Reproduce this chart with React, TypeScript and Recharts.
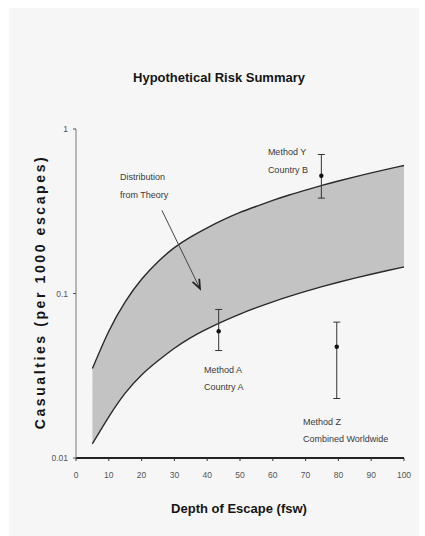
import React from 'react';
import {
  ComposedChart, XAxis, YAxis, Area, Line, Scatter, ErrorBar, ReferenceDot, ReferenceLine,
} from 'recharts';

// Theoretical band (depth in fsw, casualties per 1000 escapes)
const depths = [5, 10, 15, 20, 25, 30, 35, 40, 45, 50, 55, 60, 65, 70, 75, 80, 85, 90, 95, 100];
const upperValues = [0.035, 0.059, 0.089, 0.122, 0.156, 0.19, 0.221, 0.251, 0.281, 0.311, 0.339, 0.368, 0.397, 0.425, 0.454, 0.483, 0.512, 0.541, 0.57, 0.6];
const lowerValues = [0.0122, 0.0178, 0.0248, 0.032, 0.039, 0.0465, 0.054, 0.061, 0.068, 0.075, 0.082, 0.089, 0.096, 0.103, 0.11, 0.117, 0.124, 0.131, 0.138, 0.145];

// Observed methods with error bars
const methodNames = ['Method A', 'Method Y', 'Method Z'];
const methodDepths = [43.5, 74.8, 79.5];
const methodValues = [0.059, 0.52, 0.0475];
const methodLows = [0.045, 0.38, 0.023];
const methodHighs = [0.08, 0.7, 0.067];

// Axis ticks
const xTicks = [0, 10, 20, 30, 40, 50, 60, 70, 80, 90, 100];
const yTicks = [0.01, 0.1, 1];
const yTickLabels = ['0.01', '0.1', '1'];

// Annotations (anchored in data coordinates)
const annotLines = [
  ['Method Y', 'Country B'],
  ['Distribution', 'from Theory'],
  ['Method A', 'Country A'],
  ['Method Z', 'Combined Worldwide'],
];
const annotDepths = [58.5, 13.4, 39, 69.2];
const annotValues = [0.693, 0.489, 0.033, 0.0159];
const arrowFrom = { d: 26.2, v: 0.32 };
const arrowTo = { d: 37.8, v: 0.107 };

const band = depths.map((d, i) => ({ d, lo: lowerValues[i], hi: upperValues[i] }));
const methods = methodDepths.map((d, i) => ({
  name: methodNames[i],
  d,
  v: methodValues[i],
  err: [methodValues[i] - methodLows[i], methodHighs[i] - methodValues[i]],
}));

const FONT = '"Liberation Sans", Arial, sans-serif';

const makeAnnot = (lines: string[]) => (props: any) => {
  const vb = props.viewBox || {};
  const x = vb.x ?? 0;
  const y = vb.y ?? 0;
  return (
    <text x={x} y={y} fontFamily={FONT} fontSize={9} fill="#3a3a3a">
      {lines.map((l, i) => (
        <tspan key={i} x={x} y={y + i * 17.5}>{l}</tspan>
      ))}
    </text>
  );
};

const ArrowShape = (props: any) => {
  const { x1, y1, x2, y2 } = props;
  if (x1 == null) return null;
  const ang = Math.atan2(y2 - y1, x2 - x1);
  const len = 10;
  const spread = 0.38;
  const ax = x2 - len * Math.cos(ang - spread);
  const ay = y2 - len * Math.sin(ang - spread);
  const bx = x2 - len * Math.cos(ang + spread);
  const by = y2 - len * Math.sin(ang + spread);
  return (
    <g>
      <line x1={x1} y1={y1} x2={x2} y2={y2} stroke="#444" strokeWidth={1} />
      <polyline points={`${ax},${ay} ${x2},${y2} ${bx},${by}`} fill="none" stroke="#222" strokeWidth={1.8} />
    </g>
  );
};

const Dot = (props: any) => {
  const { cx, cy } = props;
  return <circle cx={cx} cy={cy} r={2.2} fill="#111" />;
};

export default function App() {
  return (
    <div style={{ position: 'absolute', left: 0, top: 0, width: 425, height: 536, background: '#ffffff', overflow: 'hidden' }}>
      <div style={{ position: 'absolute', left: 9, top: 8, width: 410, height: 528, background: '#f6f6f6' }} />
      <div style={{ position: 'absolute', left: 219, top: 77, transform: 'translate(-50%, -50%)', fontFamily: FONT, fontWeight: 700, fontSize: 13, color: '#151515', whiteSpace: 'nowrap' }}>
        Hypothetical Risk Summary
      </div>
      <div style={{ position: 'absolute', left: 40, top: 292, transform: 'translate(-50%, -50%) rotate(-90deg)', fontFamily: FONT, fontWeight: 700, fontSize: 14, letterSpacing: 2.6, color: '#151515', whiteSpace: 'nowrap' }}>
        Casualties (per 1000 escapes)
      </div>
      <div style={{ position: 'absolute', left: 239, top: 508, transform: 'translate(-50%, -50%)', fontFamily: FONT, fontWeight: 700, fontSize: 13, color: '#151515', whiteSpace: 'nowrap' }}>
        Depth of Escape (fsw)
      </div>
      <div style={{ position: 'absolute', left: 0, top: 0 }}>
        <ComposedChart width={425} height={536} margin={{ top: 129, right: 21, bottom: 0, left: 0 }}>
          <XAxis
            dataKey="d"
            type="number"
            domain={[0, 100]}
            ticks={xTicks}
            height={78}
            axisLine={{ stroke: '#222', strokeWidth: 2 }}
            tickLine={{ stroke: '#333' }}
            tickSize={3}
            tickMargin={11}
            tick={{ fontFamily: FONT, fontSize: 8.5, fill: '#555' }}
            allowDataOverflow
          />
          <YAxis
            type="number"
            scale="log"
            domain={[0.01, 1]}
            ticks={yTicks}
            tickFormatter={(v: number) => yTickLabels[yTicks.indexOf(v)] ?? String(v)}
            width={76}
            axisLine={{ stroke: '#777', strokeWidth: 1 }}
            tickLine={{ stroke: '#555' }}
            tickSize={3}
            tickMargin={5}
            tick={{ fontFamily: FONT, fontSize: 8.5, fill: '#555' }}
            allowDataOverflow
          />
          <Area
            data={band}
            dataKey={(r: any) => [r.lo, r.hi]}
            type="natural"
            fill="#c3c3c3"
            fillOpacity={1}
            stroke="none"
            isAnimationActive={false}
          />
          <Line data={band} dataKey="hi" type="natural" stroke="#2a2a2a" strokeWidth={1.4} dot={false} isAnimationActive={false} />
          <Line data={band} dataKey="lo" type="natural" stroke="#2a2a2a" strokeWidth={1.4} dot={false} isAnimationActive={false} />
          <Scatter data={methods} dataKey="v" shape={<Dot />} isAnimationActive={false}>
            <ErrorBar dataKey="err" direction="y" width={3.5} stroke="#333" strokeWidth={1} isAnimationActive={false} />
          </Scatter>
          <ReferenceLine
            segment={[{ x: arrowFrom.d, y: arrowFrom.v }, { x: arrowTo.d, y: arrowTo.v }]}
            ifOverflow="visible"
            shape={(p: any) => <ArrowShape {...p} />}
          />
          {annotLines.map((lines, i) => (
            <ReferenceDot
              key={i}
              x={annotDepths[i]}
              y={annotValues[i]}
              r={0}
              fill="none"
              stroke="none"
              ifOverflow="visible"
              label={makeAnnot(lines)}
            />
          ))}
        </ComposedChart>
      </div>
    </div>
  );
}
